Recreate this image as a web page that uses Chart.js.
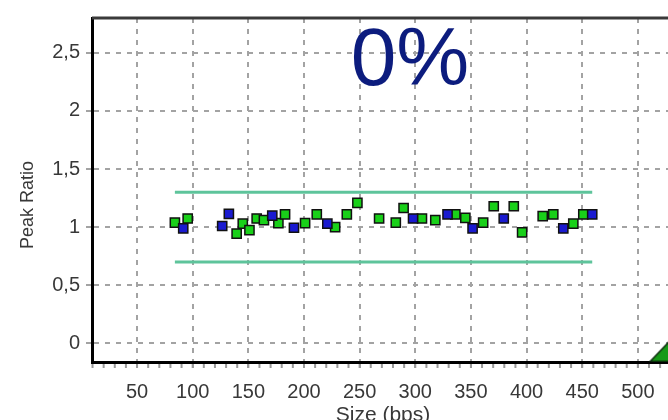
<!DOCTYPE html>
<html>
<head>
<meta charset="utf-8">
<script src="https://cdn.jsdelivr.net/npm/chart.js@4.4.1/dist/chart.umd.min.js"></script>
<style>
html,body{margin:0;padding:0;background:#fff;overflow:hidden;}
#wrap{width:668px;height:420px;overflow:hidden;position:relative;}
#peakChart{position:absolute;left:0;top:0;}
</style>
</head>
<body>
<div id="wrap"><canvas id="peakChart" width="700" height="420"></canvas></div>
<script>
// peaks (size in bps, peak ratio)
var greenX = [84, 95.5, 139.5, 145, 151, 157.5, 164, 177, 183, 201, 211.5, 228, 238.5, 248, 267.5, 282.5, 289.5, 306, 318, 336, 345, 361, 370.5, 388.5, 396, 414.5, 424, 442, 451];
var greenY = [1.04, 1.075, 0.945, 1.03, 0.975, 1.075, 1.06, 1.035, 1.11, 1.035, 1.11, 1.0, 1.11, 1.21, 1.075, 1.04, 1.165, 1.075, 1.06, 1.11, 1.08, 1.04, 1.18, 1.18, 0.955, 1.095, 1.11, 1.03, 1.11];
var blueX = [91.5, 126.5, 132.5, 171.5, 191, 221, 298, 329, 351.5, 379.5, 433, 459];
var blueY = [0.99, 1.01, 1.115, 1.10, 0.995, 1.03, 1.075, 1.11, 0.99, 1.075, 0.99, 1.11];

// limit lines
var limitX = [84, 459];
var upperLimit = 1.3;
var lowerLimit = 0.7;

// marker in the lower right corner
var markerX = [530];
var markerY = [-0.06];

var xTicks = [50, 100, 150, 200, 250, 300, 350, 400, 450, 500];
var yTicks = [0, 0.5, 1, 1.5, 2, 2.5];
var yTickLabels = ['0', '0,5', '1', '1,5', '2', '2,5'];

var bigLabel = '0%';
var xTitle = 'Size (bps)';
var yTitle = 'Peak Ratio';

var FONT = "'Liberation Sans', Arial, sans-serif";

// x axis scale of the original: pixels per bp and pixel of 0 bp
var X_PX_PER_BP = 1.1129;
var X_ZERO_PX = 81.4;

function toPoints(xs, ys){
    return xs.map(function(x, i){ return {x: x, y: ys[i]}; });
}

// triangle image for the corner marker
var tri = document.createElement('canvas');
tri.width = 44; tri.height = 24;
var tctx = tri.getContext('2d');
tctx.beginPath();
tctx.moveTo(22, 1);
tctx.lineTo(43, 23);
tctx.lineTo(1, 23);
tctx.closePath();
tctx.fillStyle = '#179a17';
tctx.fill();
tctx.lineWidth = 1.5;
tctx.strokeStyle = '#0a2a0a';
tctx.stroke();

var extras = {
    id: 'extras',
    beforeDatasetsDraw: function(chart){
        var ctx = chart.ctx, a = chart.chartArea, xs = chart.scales.x;
        ctx.save();
        // top frame line
        ctx.strokeStyle = '#3a3a3a';
        ctx.lineWidth = 3;
        ctx.beginPath();
        ctx.moveTo(a.left, a.top);
        ctx.lineTo(a.right, a.top);
        ctx.stroke();
        // minor ticks under the x axis
        ctx.strokeStyle = '#999';
        ctx.lineWidth = 2;
        for (var v = 10; v <= 550; v += 10) {
            var px = xs.getPixelForValue(v);
            ctx.beginPath();
            ctx.moveTo(px, a.bottom + 2);
            ctx.lineTo(px, a.bottom + 6);
            ctx.stroke();
        }
        ctx.restore();
    },
    afterDraw: function(chart){
        var ctx = chart.ctx;
        ctx.save();
        ctx.fillStyle = '#0c1c7e';
        ctx.font = '82px ' + FONT;
        ctx.textAlign = 'center';
        ctx.textBaseline = 'alphabetic';
        ctx.fillText(bigLabel, 410, 85);

        ctx.fillStyle = '#383838';
        ctx.font = '21px ' + FONT;
        ctx.fillText(xTitle, 383, 421);

        ctx.translate(33, 205);
        ctx.rotate(-Math.PI / 2);
        ctx.font = '18px ' + FONT;
        ctx.fillText(yTitle, 0, 0);
        ctx.restore();
    }
};

var ctx = document.getElementById('peakChart').getContext('2d');
var peakChart = new Chart(ctx, {
    type: 'scatter',
    data: {
        datasets: [
            {
                label: 'upper',
                data: toPoints(limitX, [upperLimit, upperLimit]),
                showLine: true,
                borderColor: '#5ec49b',
                borderWidth: 3,
                pointRadius: 0,
                order: 3
            },
            {
                label: 'lower',
                data: toPoints(limitX, [lowerLimit, lowerLimit]),
                showLine: true,
                borderColor: '#5ec49b',
                borderWidth: 3,
                pointRadius: 0,
                order: 3
            },
            {
                label: 'green',
                data: toPoints(greenX, greenY),
                pointStyle: 'rect',
                pointRadius: 6.5,
                backgroundColor: '#19d019',
                borderColor: '#111',
                borderWidth: 1.5,
                order: 2
            },
            {
                label: 'blue',
                data: toPoints(blueX, blueY),
                pointStyle: 'rect',
                pointRadius: 6.5,
                backgroundColor: '#1a1ad0',
                borderColor: '#111',
                borderWidth: 1.5,
                order: 1
            },
            {
                label: 'marker',
                data: toPoints(markerX, markerY),
                pointStyle: tri,
                pointRadius: 12,
                clip: false,
                order: 0
            }
        ]
    },
    options: {
        responsive: false,
        animation: false,
        layout: { padding: { top: 18, left: 0, right: 0, bottom: 0 } },
        plugins: {
            legend: { display: false },
            tooltip: { enabled: false }
        },
        scales: {
            x: {
                type: 'linear',
                min: 10,
                max: 556,
                afterBuildTicks: function(scale){
                    scale.ticks = xTicks.map(function(v){ return {value: v}; });
                },
                afterFit: function(scale){ scale.height = 58; },
                grid: {
                    color: '#a3a3a3',
                    lineWidth: 2,
                    tickLength: 6,
                    tickColor: '#a3a3a3',
                    tickWidth: 2,
                    tickBorderDash: []
                },
                border: { color: '#000', width: 3, dash: [5, 6] },
                ticks: {
                    padding: 12,
                    color: '#383838',
                    font: { family: FONT, size: 20 },
                    maxRotation: 0
                }
            },
            y: {
                type: 'linear',
                min: -0.16,
                max: 2.8,
                afterBuildTicks: function(scale){
                    scale.ticks = yTicks.map(function(v){ return {value: v}; });
                },
                afterFit: function(scale){ scale.width = 92; },
                grid: {
                    color: '#a3a3a3',
                    lineWidth: 2,
                    tickLength: 6,
                    tickColor: '#a3a3a3',
                    tickWidth: 2,
                    tickBorderDash: []
                },
                border: { color: '#000', width: 3, dash: [5, 6] },
                ticks: {
                    padding: 6,
                    color: '#383838',
                    font: { family: FONT, size: 20 },
                    callback: function(value){
                        var i = yTicks.indexOf(value);
                        return i >= 0 ? yTickLabels[i] : '';
                    }
                }
            }
        }
    },
    plugins: [extras]
});

// fit the x range to the real plot area so the ticks land where the original has them
var area = peakChart.chartArea;
peakChart.options.scales.x.min = (area.left - X_ZERO_PX) / X_PX_PER_BP;
peakChart.options.scales.x.max = (area.right - X_ZERO_PX) / X_PX_PER_BP;
peakChart.update();
</script>
</body>
</html>
